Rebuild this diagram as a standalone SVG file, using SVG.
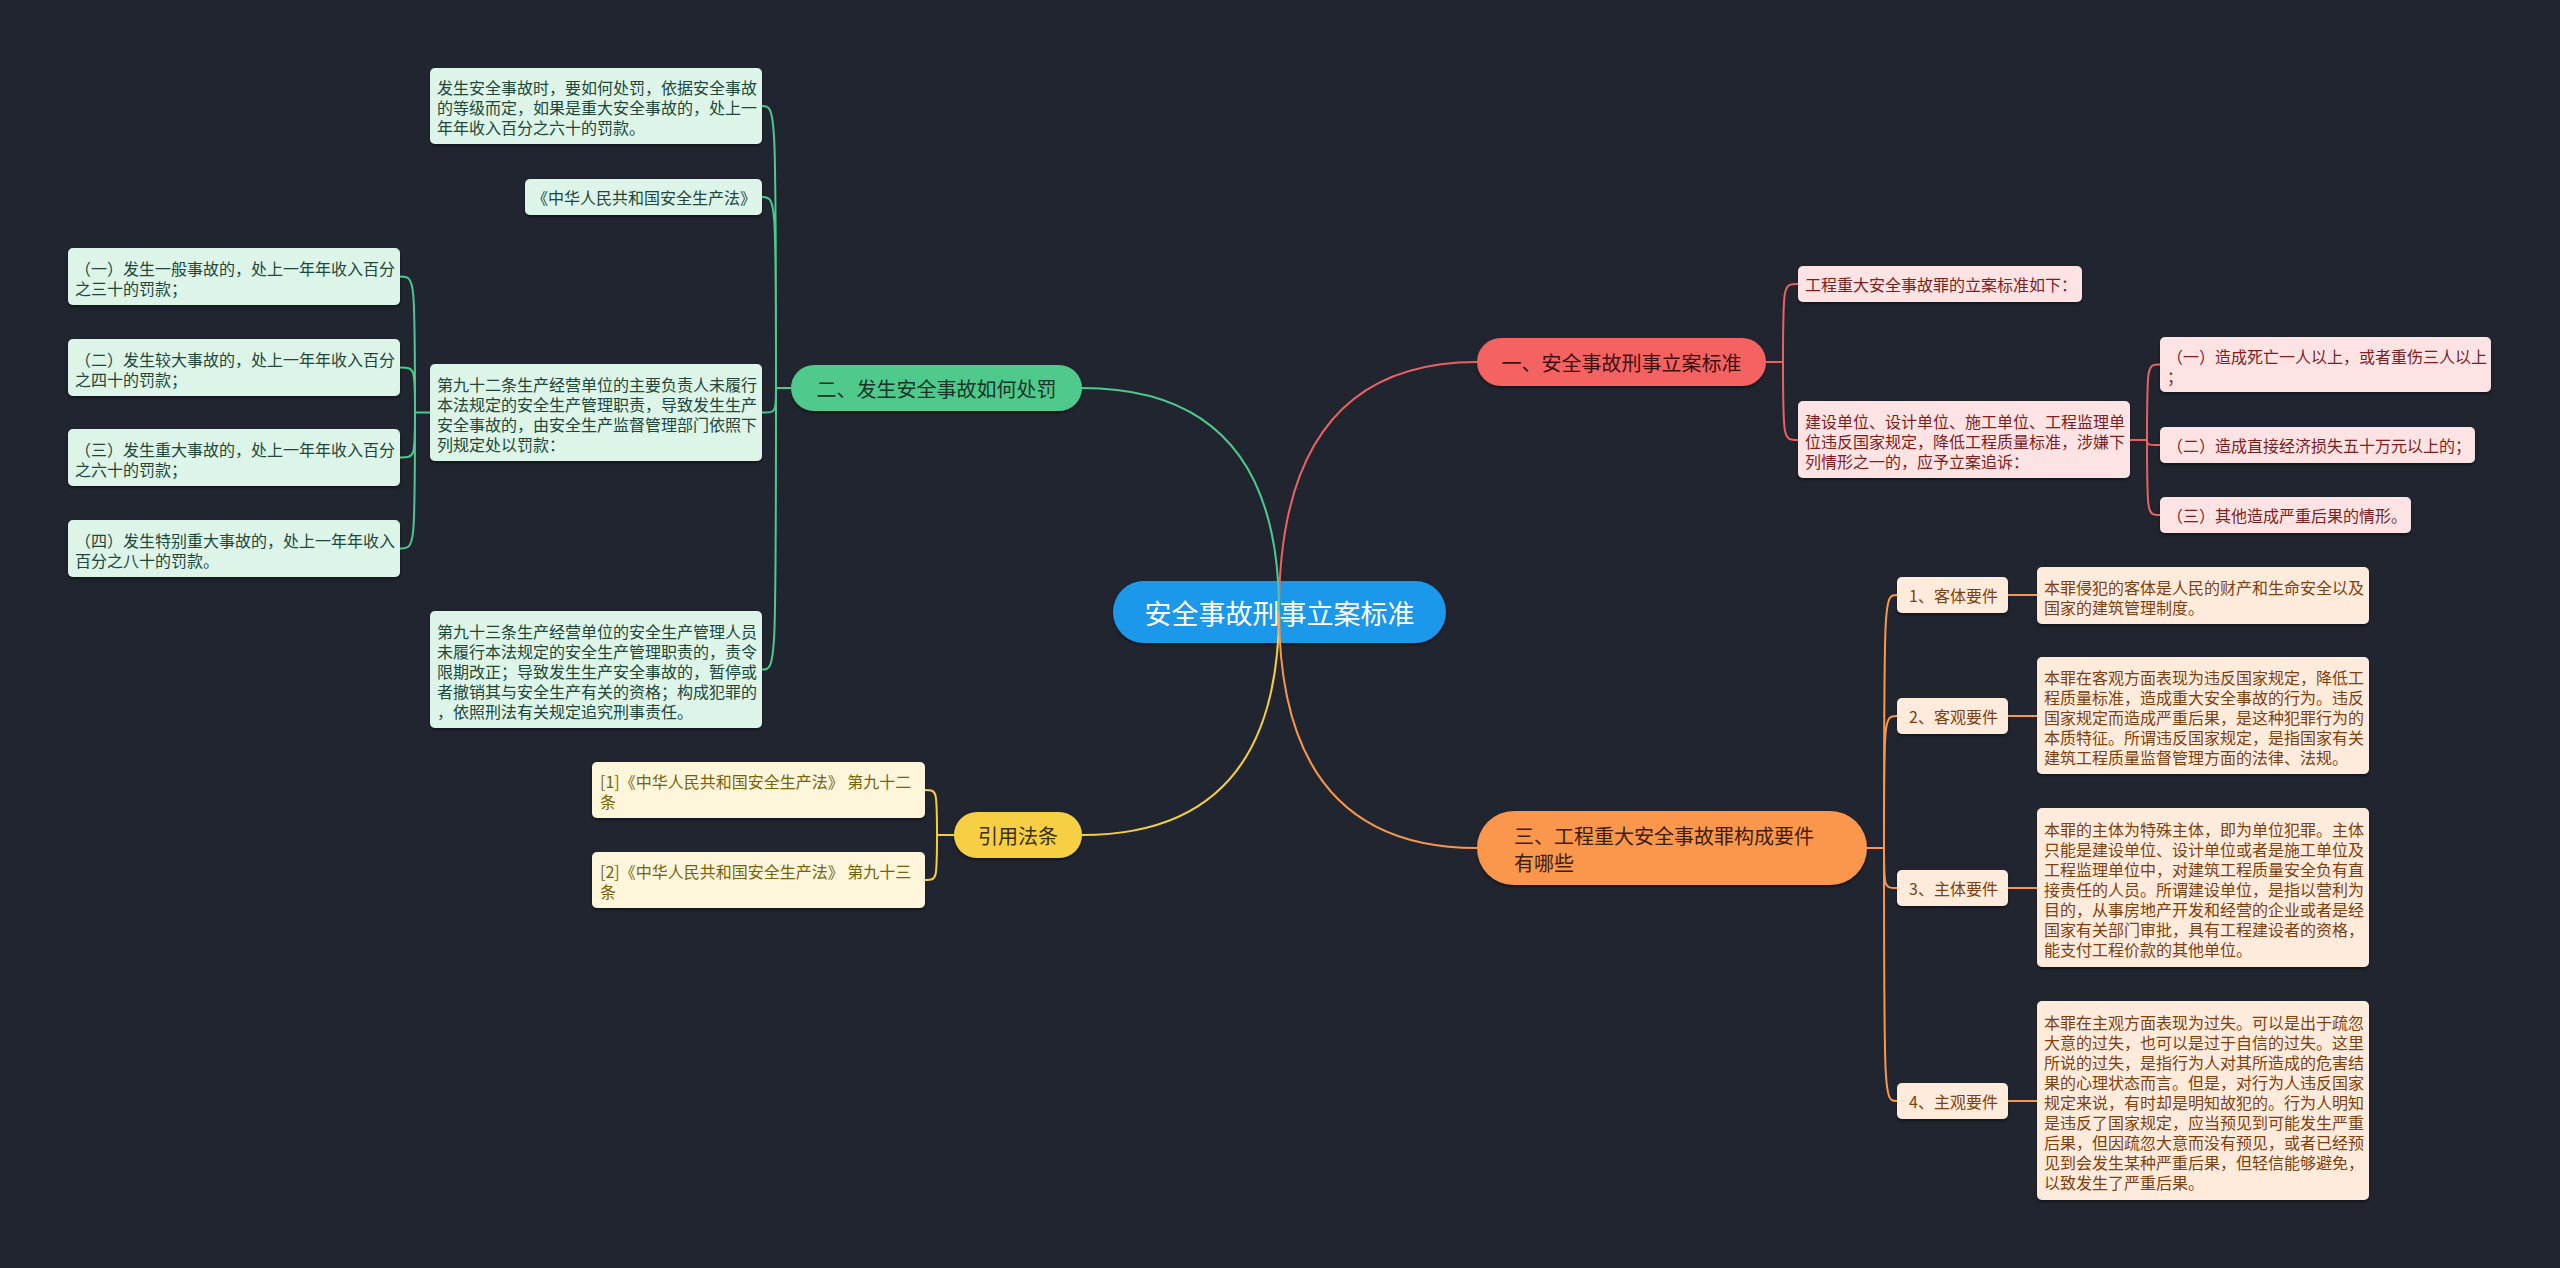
<svg xmlns="http://www.w3.org/2000/svg" width="2560" height="1268" viewBox="0 0 2560 1268">
<defs>
<filter id="sh" x="-10%" y="-10%" width="120%" height="130%">
<feDropShadow dx="0" dy="2" stdDeviation="1.5" flood-color="#000" flood-opacity="0.45"/>
</filter>
<style>
text{font-family:"Noto Sans CJK SC","Noto Sans",sans-serif;dominant-baseline:central}
.s{font-size:16px}
.b{font-size:20px}
.gc rect{fill:#dcf5e8}.gc text{fill:#22473a}
.rc rect{fill:#fde3e3}.rc text{fill:#7e1e1e}
.oc rect{fill:#feebdc}.oc text{fill:#803f0f}
.yc rect{fill:#fef6da}.yc text{fill:#7a6208}
.box{filter:url(#sh)}
.cn path{fill:none;stroke-width:2}
.g{stroke:#4cc98c}.r{stroke:#e86262}.o{stroke:#f7964f}.y{stroke:#f3cd45}
</style>
</defs>
<rect width="2560" height="1268" fill="#21252f"/>

<g id="center">
<rect class="box" x="1113" y="581" width="333" height="62" rx="31" fill="#1b98ea"/>
<text x="1279.5" y="612" font-size="27" fill="#ffffff" text-anchor="middle">安全事故刑事立案标准</text>
</g>

<g id="branch-red">
<rect class="box" x="1477" y="338" width="289" height="48" rx="24" fill="#f46262"/>
<text class="b" x="1621.5" y="362" fill="#3d1010" text-anchor="middle">一、安全事故刑事立案标准</text>
</g>
<g id="red-1" class="rc">
<rect class="box" x="1798" y="266" width="284" height="36" rx="5"/>
<text class="s" x="1805" y="284">工程重大安全事故罪的立案标准如下：</text>
</g>
<g id="red-2" class="rc">
<rect class="box" x="1798" y="401" width="332" height="77" rx="5"/>
<text class="s" x="1805"><tspan x="1805" y="420.5">建设单位、设计单位、施工单位、工程监理单</tspan><tspan x="1805" y="440.5">位违反国家规定，降低工程质量标准，涉嫌下</tspan><tspan x="1805" y="460.5">列情形之一的，应予立案追诉：</tspan></text>
</g>
<g id="red-2-1" class="rc">
<rect class="box" x="2160" y="337" width="331" height="55" rx="5"/>
<text class="s"><tspan x="2167" y="355.5">（一）造成死亡一人以上，或者重伤三人以上</tspan><tspan x="2167" y="375.5">；</tspan></text>
</g>
<g id="red-2-2" class="rc">
<rect class="box" x="2160" y="427" width="315" height="36" rx="5"/>
<text class="s" x="2167" y="445">（二）造成直接经济损失五十万元以上的；</text>
</g>
<g id="red-2-3" class="rc">
<rect class="box" x="2160" y="497" width="251" height="36" rx="5"/>
<text class="s" x="2167" y="515">（三）其他造成严重后果的情形。</text>
</g>

<g id="branch-green">
<rect class="box" x="791" y="365" width="291" height="46" rx="23" fill="#4fc98c"/>
<text class="b" x="936.5" y="388" fill="#163526" text-anchor="middle">二、发生安全事故如何处罚</text>
</g>
<g id="green-1" class="gc">
<rect class="box" x="430" y="68" width="332" height="76" rx="5"/>
<text class="s"><tspan x="437" y="87">发生安全事故时，要如何处罚，依据安全事故</tspan><tspan x="437" y="107">的等级而定，如果是重大安全事故的，处上一</tspan><tspan x="437" y="127">年年收入百分之六十的罚款。</tspan></text>
</g>
<g id="green-2" class="gc">
<rect class="box" x="525" y="179" width="237" height="36" rx="5"/>
<text class="s" x="532" y="197">《中华人民共和国安全生产法》</text>
</g>
<g id="green-3" class="gc">
<rect class="box" x="430" y="364" width="332" height="97" rx="5"/>
<text class="s"><tspan x="437" y="383.5">第九十二条生产经营单位的主要负责人未履行</tspan><tspan x="437" y="403.5">本法规定的安全生产管理职责，导致发生生产</tspan><tspan x="437" y="423.5">安全事故的，由安全生产监督管理部门依照下</tspan><tspan x="437" y="443.5">列规定处以罚款：</tspan></text>
</g>
<g id="green-3-1" class="gc">
<rect class="box" x="68" y="248" width="332" height="57" rx="5"/>
<text class="s"><tspan x="75" y="267.5">（一）发生一般事故的，处上一年年收入百分</tspan><tspan x="75" y="287.5">之三十的罚款；</tspan></text>
</g>
<g id="green-3-2" class="gc">
<rect class="box" x="68" y="339" width="332" height="57" rx="5"/>
<text class="s"><tspan x="75" y="358.5">（二）发生较大事故的，处上一年年收入百分</tspan><tspan x="75" y="378.5">之四十的罚款；</tspan></text>
</g>
<g id="green-3-3" class="gc">
<rect class="box" x="68" y="429" width="332" height="57" rx="5"/>
<text class="s"><tspan x="75" y="448.5">（三）发生重大事故的，处上一年年收入百分</tspan><tspan x="75" y="468.5">之六十的罚款；</tspan></text>
</g>
<g id="green-3-4" class="gc">
<rect class="box" x="68" y="520" width="332" height="57" rx="5"/>
<text class="s"><tspan x="75" y="539.5">（四）发生特别重大事故的，处上一年年收入</tspan><tspan x="75" y="559.5">百分之八十的罚款。</tspan></text>
</g>
<g id="green-4" class="gc">
<rect class="box" x="430" y="611" width="332" height="117" rx="5"/>
<text class="s"><tspan x="437" y="630.5">第九十三条生产经营单位的安全生产管理人员</tspan><tspan x="437" y="650.5">未履行本法规定的安全生产管理职责的，责令</tspan><tspan x="437" y="670.5">限期改正；导致发生生产安全事故的，暂停或</tspan><tspan x="437" y="690.5">者撤销其与安全生产有关的资格；构成犯罪的</tspan><tspan x="437" y="710.5">，依照刑法有关规定追究刑事责任。</tspan></text>
</g>

<g id="branch-yellow">
<rect class="box" x="954" y="812" width="128" height="46" rx="23" fill="#f6cf45"/>
<text class="b" x="1018" y="835" fill="#3a2f05" text-anchor="middle">引用法条</text>
</g>
<g id="yellow-1" class="yc">
<rect class="box" x="592" y="762" width="333" height="56" rx="5"/>
<text class="s"><tspan x="600" y="781">[1]《中华人民共和国安全生产法》 第九十二</tspan><tspan x="600" y="801">条</tspan></text>
</g>
<g id="yellow-2" class="yc">
<rect class="box" x="592" y="852" width="333" height="56" rx="5"/>
<text class="s"><tspan x="600" y="871">[2]《中华人民共和国安全生产法》 第九十三</tspan><tspan x="600" y="891">条</tspan></text>
</g>

<g id="branch-orange">
<rect class="box" x="1477" y="811" width="390" height="74" rx="37" fill="#fb964e"/>
<text class="b" fill="#3d1e08"><tspan x="1514" y="835">三、工程重大安全事故罪构成要件</tspan><tspan x="1514" y="862">有哪些</tspan></text>
</g>
<g id="orange-1" class="oc">
<rect class="box" x="1897" y="577" width="111" height="36" rx="5"/>
<text class="s" x="1909" y="595">1、客体要件</text>
</g>
<g id="orange-1-1" class="oc">
<rect class="box" x="2037" y="567" width="332" height="57" rx="5"/>
<text class="s"><tspan x="2044" y="586.5">本罪侵犯的客体是人民的财产和生命安全以及</tspan><tspan x="2044" y="606.5">国家的建筑管理制度。</tspan></text>
</g>
<g id="orange-2" class="oc">
<rect class="box" x="1897" y="698" width="111" height="36" rx="5"/>
<text class="s" x="1909" y="716">2、客观要件</text>
</g>
<g id="orange-2-1" class="oc">
<rect class="box" x="2037" y="657" width="332" height="117" rx="5"/>
<text class="s"><tspan x="2044" y="676.5">本罪在客观方面表现为违反国家规定，降低工</tspan><tspan x="2044" y="696.5">程质量标准，造成重大安全事故的行为。违反</tspan><tspan x="2044" y="716.5">国家规定而造成严重后果，是这种犯罪行为的</tspan><tspan x="2044" y="736.5">本质特征。所谓违反国家规定，是指国家有关</tspan><tspan x="2044" y="756.5">建筑工程质量监督管理方面的法律、法规。</tspan></text>
</g>
<g id="orange-3" class="oc">
<rect class="box" x="1897" y="870" width="111" height="36" rx="5"/>
<text class="s" x="1909" y="888">3、主体要件</text>
</g>
<g id="orange-3-1" class="oc">
<rect class="box" x="2037" y="808" width="332" height="159" rx="5"/>
<text class="s"><tspan x="2044" y="828.5">本罪的主体为特殊主体，即为单位犯罪。主体</tspan><tspan x="2044" y="848.5">只能是建设单位、设计单位或者是施工单位及</tspan><tspan x="2044" y="868.5">工程监理单位中，对建筑工程质量安全负有直</tspan><tspan x="2044" y="888.5">接责任的人员。所谓建设单位，是指以营利为</tspan><tspan x="2044" y="908.5">目的，从事房地产开发和经营的企业或者是经</tspan><tspan x="2044" y="928.5">国家有关部门审批，具有工程建设者的资格，</tspan><tspan x="2044" y="948.5">能支付工程价款的其他单位。</tspan></text>
</g>
<g id="orange-4" class="oc">
<rect class="box" x="1897" y="1083" width="111" height="36" rx="5"/>
<text class="s" x="1909" y="1101">4、主观要件</text>
</g>
<g id="orange-4-1" class="oc">
<rect class="box" x="2037" y="1001" width="332" height="199" rx="5"/>
<text class="s"><tspan x="2044" y="1021.5">本罪在主观方面表现为过失。可以是出于疏忽</tspan><tspan x="2044" y="1041.5">大意的过失，也可以是过于自信的过失。这里</tspan><tspan x="2044" y="1061.5">所说的过失，是指行为人对其所造成的危害结</tspan><tspan x="2044" y="1081.5">果的心理状态而言。但是，对行为人违反国家</tspan><tspan x="2044" y="1101.5">规定来说，有时却是明知故犯的。行为人明知</tspan><tspan x="2044" y="1121.5">是违反了国家规定，应当预见到可能发生严重</tspan><tspan x="2044" y="1141.5">后果，但因疏忽大意而没有预见，或者已经预</tspan><tspan x="2044" y="1161.5">见到会发生某种严重后果，但轻信能够避免，</tspan><tspan x="2044" y="1181.5">以致发生了严重后果。</tspan></text>
</g>

<g id="connectors" class="cn">
<path class="r" stroke-width="2.5" d="M1279 611 Q1279 362 1477 362"/>
<path class="g" stroke-width="2.5" d="M1279 611 Q1279 388 1082 388"/>
<path class="y" stroke-width="2.5" d="M1279 611 Q1279 835 1082 835"/>
<path class="o" stroke-width="2.5" d="M1279 611 Q1279 848 1477 848"/>

<path class="r" d="M1766 362 H1783 M1783 362 C1783 284 1783 284 1798 284 M1783 362 C1783 440 1783 440 1798 440"/>
<path class="r" d="M2130 440 H2147 M2147 440 C2147 364.5 2147 364.5 2160 364.5 M2147 440 C2147 445 2147 445 2160 445 M2147 440 C2147 515 2147 515 2160 515"/>

<path class="g" d="M791 388 H776 M776 388 C776 106 776 106 762 106 M776 388 C776 197 776 197 762 197 M776 388 C776 412.5 776 412.5 762 412.5 M776 388 C776 669.5 776 669.5 762 669.5"/>
<path class="g" d="M430 412.5 H415 M415 412.5 C415 276.5 415 276.5 400 276.5 M415 412.5 C415 367.5 415 367.5 400 367.5 M415 412.5 C415 457.5 415 457.5 400 457.5 M415 412.5 C415 548.5 415 548.5 400 548.5"/>

<path class="y" d="M954 835 H937 M937 835 C937 790 937 790 925 790 M937 835 C937 880 937 880 925 880"/>

<path class="o" d="M1867 848 H1884 M1884 848 C1884 595 1884 595 1897 595 M1884 848 C1884 716 1884 716 1897 716 M1884 848 C1884 888 1884 888 1897 888 M1884 848 C1884 1101 1884 1101 1897 1101"/>
<path class="o" stroke-width="3" d="M2008 595 H2037 M2008 716 H2037 M2008 888 H2037 M2008 1101 H2037"/>
</g>
</svg>
